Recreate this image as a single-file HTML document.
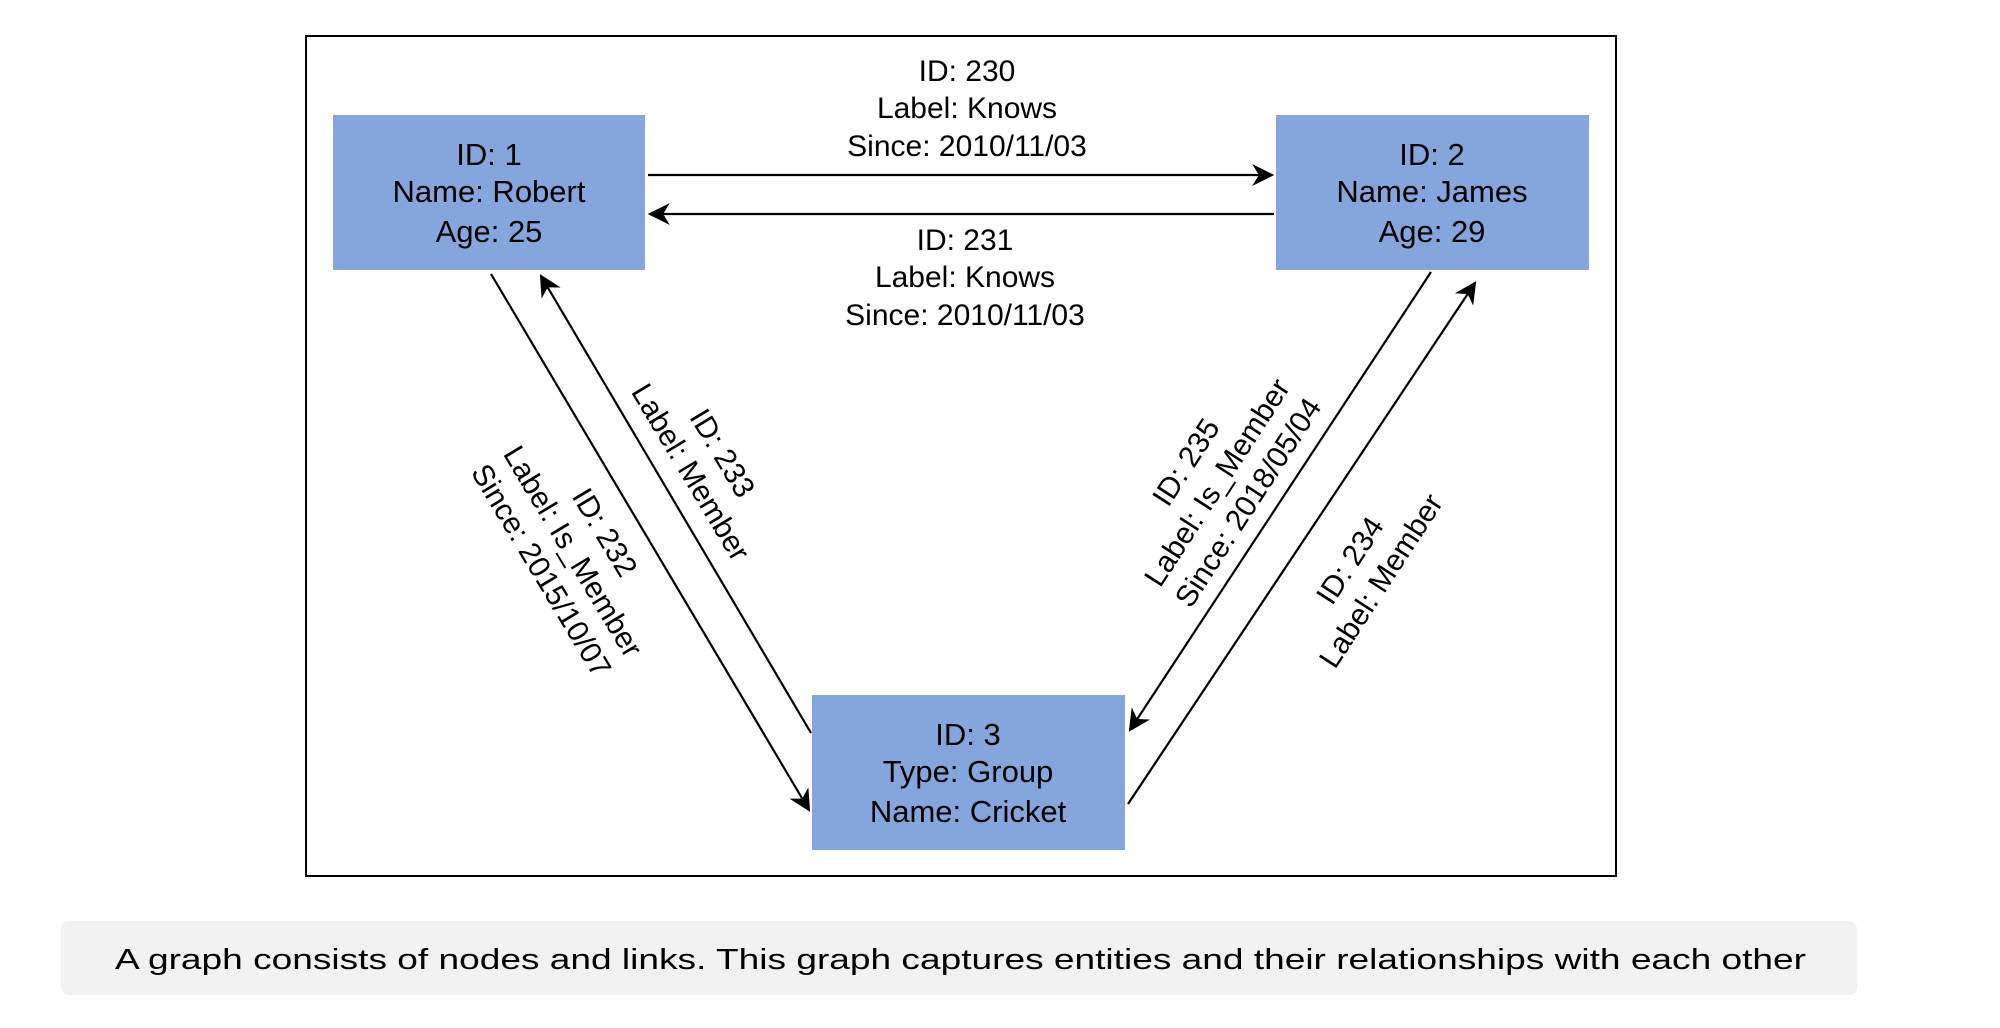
<!DOCTYPE html>
<html><head><meta charset="utf-8"><style>
html,body{margin:0;padding:0;background:#fff;width:2000px;height:1028px;overflow:hidden}
svg{display:block}
text{font-family:"Liberation Sans",Arial,sans-serif;fill:#000}
</style></head><body>
<svg width="2000" height="1028" viewBox="0 0 2000 1028" xmlns="http://www.w3.org/2000/svg">
<defs>
<marker id="b" viewBox="0 0 10 10" refX="9" refY="5" markerWidth="22" markerHeight="22" markerUnits="userSpaceOnUse" orient="auto">
<path d="M0,0 L10,5 L0,10 L3,5 z" fill="#000"/>
</marker>
</defs>
<rect x="306" y="36" width="1310" height="840" fill="#fff" stroke="#000" stroke-width="2"/>
<rect x="333" y="115" width="312" height="155" fill="#85a6dc"/>
<rect x="1276" y="115" width="313" height="155" fill="#85a6dc"/>
<rect x="812" y="695" width="313" height="155" fill="#85a6dc"/>
<g font-size="31" text-anchor="middle">
<text x="489" y="165">ID: 1</text><text x="489" y="202">Name: Robert</text><text x="489" y="242">Age: 25</text>
<text x="1432" y="165">ID: 2</text><text x="1432" y="202">Name: James</text><text x="1432" y="242">Age: 29</text>
<text x="968" y="745">ID: 3</text><text x="968" y="782">Type: Group</text><text x="968" y="822">Name: Cricket</text>
</g>
<g stroke="#000" stroke-width="2.2" fill="none">
<line x1="648" y1="175" x2="1272" y2="175" marker-end="url(#b)"/>
<line x1="1274" y1="214" x2="650" y2="214" marker-end="url(#b)"/>
<line x1="491" y1="274" x2="809" y2="810" marker-end="url(#b)"/>
<line x1="811" y1="733" x2="541" y2="276" marker-end="url(#b)"/>
<line x1="1431" y1="272" x2="1130" y2="730" marker-end="url(#b)"/>
<line x1="1128" y1="804" x2="1475" y2="283" marker-end="url(#b)"/>
</g>
<g font-size="30" text-anchor="middle">
<text x="967" y="81">ID: 230</text><text x="967" y="118">Label: Knows</text><text x="967" y="156">Since: 2010/11/03</text>
<text x="965" y="250">ID: 231</text><text x="965" y="287">Label: Knows</text><text x="965" y="325">Since: 2010/11/03</text>
<g transform="translate(572,552) rotate(59)"><text x="0" y="-28">ID: 232</text><text x="0" y="9">Label: Is_Member</text><text x="0" y="46">Since: 2015/10/07</text></g>
<g transform="translate(706,463) rotate(59)"><text x="0" y="-9">ID: 233</text><text x="0" y="28">Label: Member</text></g>
<g transform="translate(1218,483) rotate(-57)"><text x="0" y="-28">ID: 235</text><text x="0" y="9">Label: Is_Member</text><text x="0" y="46">Since: 2018/05/04</text></g>
<g transform="translate(1366,571) rotate(-57)"><text x="0" y="-9">ID: 234</text><text x="0" y="28">Label: Member</text></g>
</g>
<rect x="61" y="921" width="1796" height="74" rx="8" fill="#f2f2f2"/>
<text x="115" y="969" font-size="29" textLength="1691" lengthAdjust="spacingAndGlyphs">A graph consists of nodes and links. This graph captures entities and their relationships with each other</text>
</svg>
</body></html>
